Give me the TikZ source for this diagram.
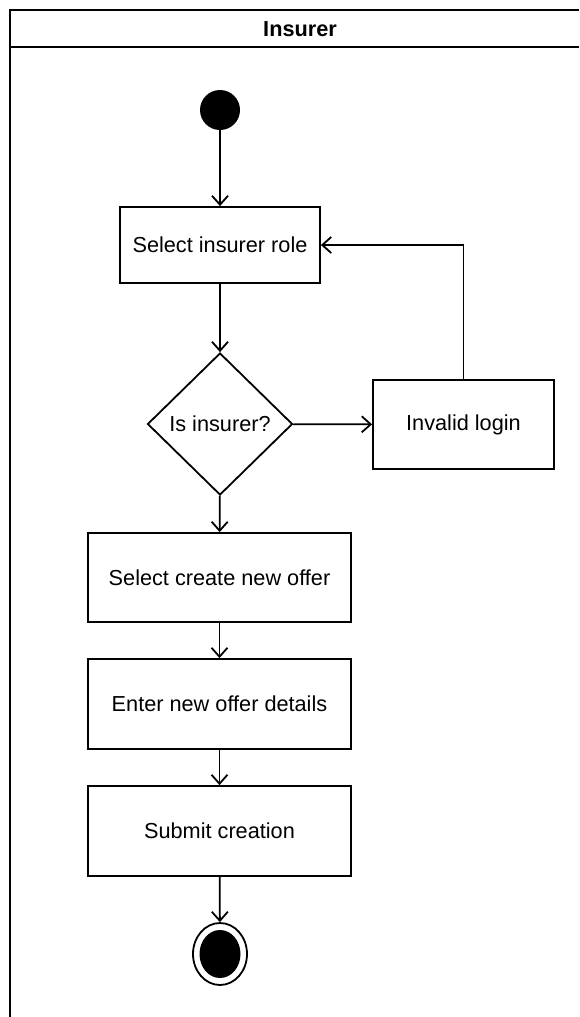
\documentclass[tikz,border=0pt]{standalone}
\usepackage{fontspec}
\setmainfont{Liberation Sans}
\usetikzlibrary{arrows.meta,shapes.geometric}
\begin{document}
\begin{tikzpicture}[x=1pt,y=-1pt,
  every node/.style={font=\fontsize{21.7}{26}\selectfont},
  lane/.style={line width=1.8pt},
  act/.style={draw,line width=1.8pt,rectangle,inner sep=0pt},
  dec/.style={draw,line width=1.8pt,diamond,inner sep=0pt,minimum width=145pt,minimum height=142pt},
  flow/.style={line width=1.8pt,-{Straight Barb[length=9pt,width=16pt,line width=1.8pt]}}
]
\useasboundingbox (0,0) rectangle (579,1017);
% swimlane
\draw[lane] (579,10) -- (10,10) -- (10,1017);
\draw[lane] (10,47) -- (579,47);
\node[font=\fontsize{21.7}{26}\selectfont\bfseries] (lanetitle) at (300,29) {Insurer};
% nodes
\node[circle,fill=black,minimum size=40pt,inner sep=0pt] (start) at (220,110) {};
\node[act,minimum width=200pt,minimum height=76pt] (role) at (220,245) {Select insurer role};
\node[dec] (isins) at (220,424) {Is insurer?};
\node[act,minimum width=181pt,minimum height=89pt] (invalid) at (463.5,424.5) {Invalid login};
\node[act,minimum width=263pt,minimum height=89pt] (create) at (219.5,577.5) {Select create new offer};
\node[act,minimum width=263pt,minimum height=90pt] (details) at (219.5,704) {Enter new offer details};
\node[act,minimum width=263pt,minimum height=90pt] (submit) at (219.5,831) {Submit creation};
\node[ellipse,draw,line width=1.8pt,minimum width=54pt,minimum height=62pt,inner sep=0pt] (end) at (220,954) {};
\fill (end.center) ellipse [x radius=20.5pt,y radius=24pt];
% connectors
\draw[flow] (start) -- (role);
\draw[flow] (role) -- (isins);
\draw[flow] (isins) -- (invalid);
\draw[flow] (invalid.north) |- (role.east);
\draw[flow] (isins) -- (create);
\draw[flow] (create) -- (details);
\draw[flow] (details) -- (submit);
\draw[flow] (submit) -- (end);
\end{tikzpicture}
\end{document}
